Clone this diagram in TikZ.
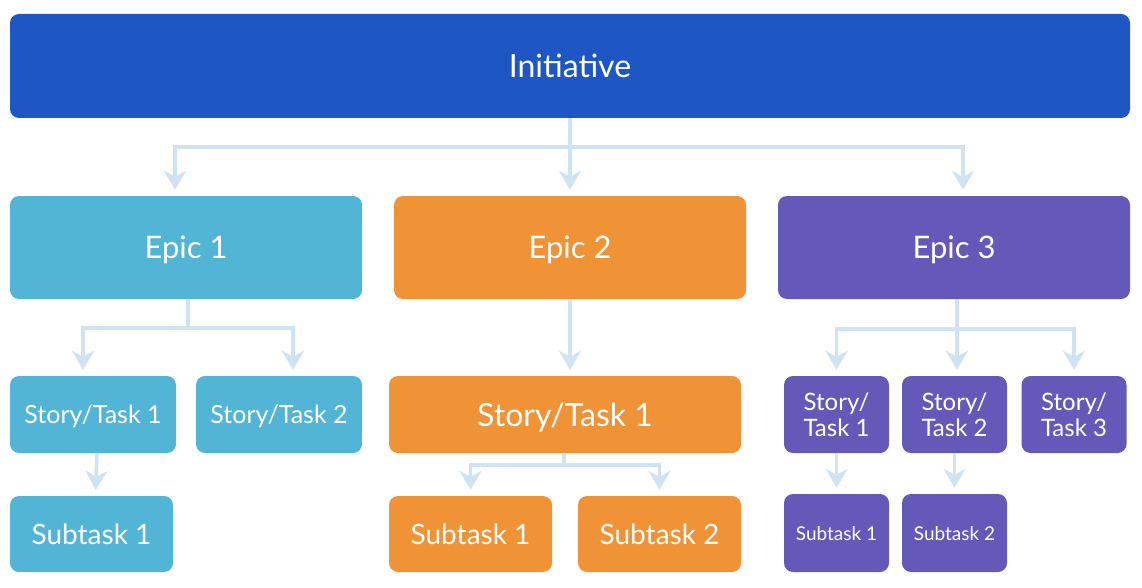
\documentclass[tikz,border=0pt]{standalone}
\usepackage{fontspec}
\setmainfont{Lato}
\usetikzlibrary{arrows.meta}
\definecolor{initblue}{HTML}{1E56C4}
\definecolor{epicsky}{HTML}{52B5D6}
\definecolor{epicorange}{HTML}{F09236}
\definecolor{epicpurple}{HTML}{6459B8}
\definecolor{linkblue}{HTML}{CFE3F3}
\begin{document}
\begin{tikzpicture}[x=1pt, y=-1pt,
  box/.style={rounded corners=9pt, text=white, inner sep=0pt, align=center, text depth=0pt},
  link/.style={draw=linkblue, line width=3.5pt,
    -{Stealth[length=19pt, width=22pt, inset=6pt]}, shorten >=6pt}]
\useasboundingbox (0,0) rectangle (1142,588);
% top level
\node [box, fill=initblue, minimum width=1120pt, minimum height=104pt, font=\fontsize{32}{34}\selectfont] (ini) at (570,66) {Initiative};
% epics
\node [box, fill=epicsky, minimum width=352pt, minimum height=103pt, font=\fontsize{31}{34}\selectfont] (e1) at (186,247.5) {Epic 1};
\node [box, fill=epicorange, minimum width=352pt, minimum height=103pt, font=\fontsize{31}{34}\selectfont] (e2) at (570,247.5) {Epic 2};
\node [box, fill=epicpurple, minimum width=352pt, minimum height=103pt, font=\fontsize{31}{34}\selectfont] (e3) at (954,247.5) {Epic 3};
% epic 1
\node [box, fill=epicsky, minimum width=166pt, minimum height=77pt, font=\fontsize{25}{28}\selectfont] (s11) at (93,414.5) {Story/Task 1};
\node [box, fill=epicsky, minimum width=166pt, minimum height=77pt, font=\fontsize{25}{28}\selectfont] (s12) at (279,414.5) {Story/Task 2};
\node [box, fill=epicsky, minimum width=163pt, minimum height=76pt, font=\fontsize{28}{31}\selectfont] (t11) at (91.5,534) {Subtask 1};
% epic 2
\node [box, fill=epicorange, minimum width=352pt, minimum height=77pt, font=\fontsize{32}{35}\selectfont] (s21) at (565,414.5) {Story/Task 1};
\node [box, fill=epicorange, minimum width=163pt, minimum height=76pt, font=\fontsize{28}{31}\selectfont] (t21) at (470.5,534) {Subtask 1};
\node [box, fill=epicorange, minimum width=163pt, minimum height=76pt, font=\fontsize{28}{31}\selectfont] (t22) at (659.5,534) {Subtask 2};
% epic 3
\node [box, fill=epicpurple, minimum width=105pt, minimum height=77pt, font=\fontsize{24}{26}\selectfont] (s31) at (836.5,414.5) {Story/\\Task 1};
\node [box, fill=epicpurple, minimum width=105pt, minimum height=77pt, font=\fontsize{24}{26}\selectfont] (s32) at (954.5,414.5) {Story/\\Task 2};
\node [box, fill=epicpurple, minimum width=105pt, minimum height=77pt, font=\fontsize{24}{26}\selectfont] (s33) at (1074,414.5) {Story/\\Task 3};
\node [box, fill=epicpurple, minimum width=105pt, minimum height=78pt, font=\fontsize{19}{22}\selectfont] (t31) at (836.5,533) {Subtask 1};
\node [box, fill=epicpurple, minimum width=105pt, minimum height=78pt, font=\fontsize{19}{22}\selectfont] (t32) at (954.5,533) {Subtask 2};
% links
\draw [link] (ini.south) -- (e2.north);
\draw [link] (ini.south) -- ++(0,29) -| ([xshift=-11pt]e1.north);
\draw [link] (ini.south) -- ++(0,29) -| ([xshift=9pt]e3.north);
\draw [link] ([xshift=2pt]e1.south) -- ++(0,29) -| ([xshift=-10pt]s11.north);
\draw [link] ([xshift=2pt]e1.south) -- ++(0,29) -| ([xshift=14pt]s12.north);
\draw [link] ([xshift=4pt]s11.south) -- ([xshift=4pt]t11.north);
\draw [link] (e2.south) -- (e2.south |- s21.north);
\draw [link] ([xshift=-1pt]s21.south) -- ++(0,12) -| (t21.north);
\draw [link] ([xshift=-1pt]s21.south) -- ++(0,12) -| (t22.north);
\draw [link] ([xshift=3pt]e3.south) -- ++(0,30) -| (s31.north);
\draw [link] ([xshift=3pt]e3.south) -- ([xshift=3pt]e3.south |- s32.north);
\draw [link] ([xshift=3pt]e3.south) -- ++(0,30) -| (s33.north);
\draw [link] (s31.south) -- (t31.north);
\draw [link] (s32.south) -- (t32.north);
\end{tikzpicture}
\end{document}
